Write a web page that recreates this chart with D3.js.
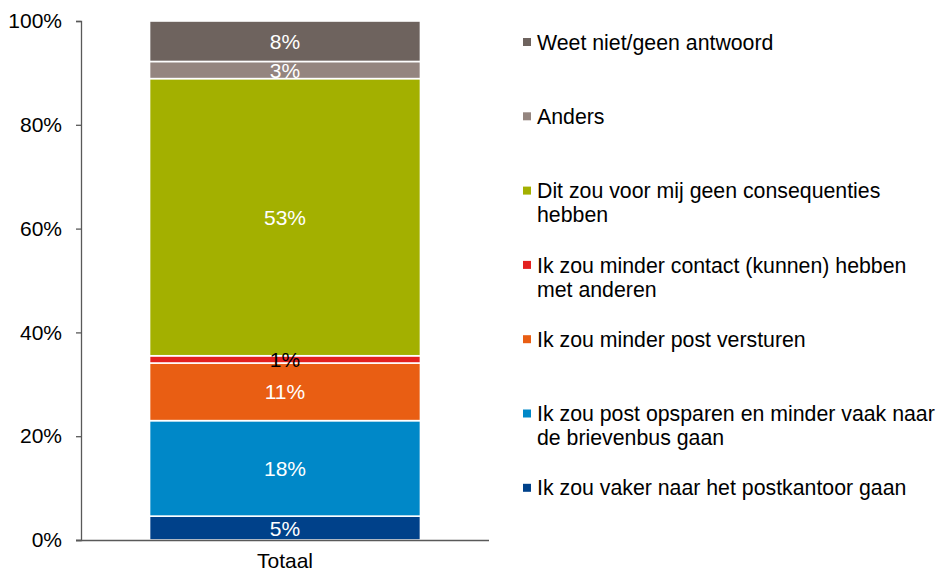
<!DOCTYPE html>
<html>
<head>
<meta charset="utf-8">
<script src="https://cdn.jsdelivr.net/npm/d3@7"></script>
<style>
    body { margin: 0; background: #fff; }
    svg { display: block; font-family: Arial, 'Liberation Sans', sans-serif; }
</style>
</head>
<body>
<div id="chart"></div>
<script>
// stacked from the bottom up
const categories = ['Totaal'];
const seriesNames = [
    'Ik zou vaker naar het postkantoor gaan',
    'Ik zou post opsparen en minder vaak naar\nde brievenbus gaan',
    'Ik zou minder post versturen',
    'Ik zou minder contact (kunnen) hebben\nmet anderen',
    'Dit zou voor mij geen consequenties\nhebben',
    'Anders',
    'Weet niet/geen antwoord'
];
const seriesValues = [4.6, 18.4, 11.1, 1.4, 53.4, 3.3, 7.8];
const seriesColors = ['#00418A', '#0088C8', '#E95E13', '#E3201F', '#A3B000', '#94857F', '#6E635E'];
const labelColors = ['#fff', '#fff', '#fff', '#000', '#fff', '#fff', '#fff'];
const yTicks = [0, 20, 40, 60, 80, 100];

const W = 938, H = 573;
const margin = { top: 21, left: 81, bottom: 33 };
const plotRight = 489;
const innerH = H - margin.top - margin.bottom;

const svg = d3.select('#chart').append('svg')
    .attr('width', W)
    .attr('height', H);

const x = d3.scaleBand()
    .domain(categories)
    .range([margin.left, plotRight])
    .paddingInner(0)
    .paddingOuter(0.253);

const y = d3.scaleLinear()
    .domain([0, 100])
    .range([margin.top + innerH, margin.top]);

const row = { cat: categories[0] };
seriesNames.forEach((s, i) => { row[s] = seriesValues[i]; });
const stacked = d3.stack().keys(seriesNames)([row]);

const fmt = d3.format('.0%');

// bars
const layers = svg.append('g').selectAll('g')
    .data(stacked)
    .join('g')
    .attr('fill', (d, i) => seriesColors[i]);

layers.selectAll('rect')
    .data(d => d)
    .join('rect')
    .attr('x', d => x(d.data.cat))
    .attr('width', x.bandwidth())
    .attr('y', d => y(d[1]))
    .attr('height', d => y(d[0]) - y(d[1]))
    .attr('stroke', '#fff')
    .attr('stroke-width', 1.6);

// value labels
svg.append('g').selectAll('text')
    .data(stacked)
    .join('text')
    .attr('x', d => x(d[0].data.cat) + x.bandwidth() / 2)
    .attr('y', d => y((d[0][0] + d[0][1]) / 2))
    .attr('dy', '0.36em')
    .attr('text-anchor', 'middle')
    .attr('font-size', 21)
    .attr('fill', (d, i) => labelColors[i])
    .text((d, i) => fmt(seriesValues[i] / 100));

// axes
svg.append('g')
    .attr('transform', `translate(${margin.left},0)`)
    .call(d3.axisLeft(y).tickValues(yTicks).tickSize(5).tickPadding(14)
        .tickFormat(d => d + '%'));

const xAxis = svg.append('g')
    .attr('transform', `translate(0,${margin.top + innerH})`)
    .call(d3.axisBottom(x).tickSize(0).tickPadding(13));

xAxis.select('.domain')
    .attr('d', `M${margin.left - 5},0.5H${plotRight}`);

svg.selectAll('.domain, .tick line').attr('stroke', '#595959').attr('stroke-width', 1.3);
svg.selectAll('.tick text')
    .attr('fill', '#000')
    .attr('font-size', 21)
    .attr('font-family', "Arial, 'Liberation Sans', sans-serif");

// legend, top entry first
const legend = svg.append('g').attr('transform', 'translate(523,0)');
const legendOrder = d3.range(seriesNames.length).reverse();

const item = legend.selectAll('g')
    .data(legendOrder)
    .join('g')
    .attr('transform', (d, i) => `translate(0,${42 + i * 74.3})`);

item.append('rect')
    .attr('x', 0)
    .attr('y', -4)
    .attr('width', 8)
    .attr('height', 8)
    .attr('fill', d => seriesColors[d]);

item.append('text')
    .attr('font-size', 21.3)
    .attr('fill', '#000')
    .selectAll('tspan')
    .data(d => seriesNames[d].split('\n'))
    .join('tspan')
    .attr('x', 14)
    .attr('y', (d, i) => i * 24)
    .attr('dy', '0.36em')
    .text(d => d);
</script>
</body>
</html>
